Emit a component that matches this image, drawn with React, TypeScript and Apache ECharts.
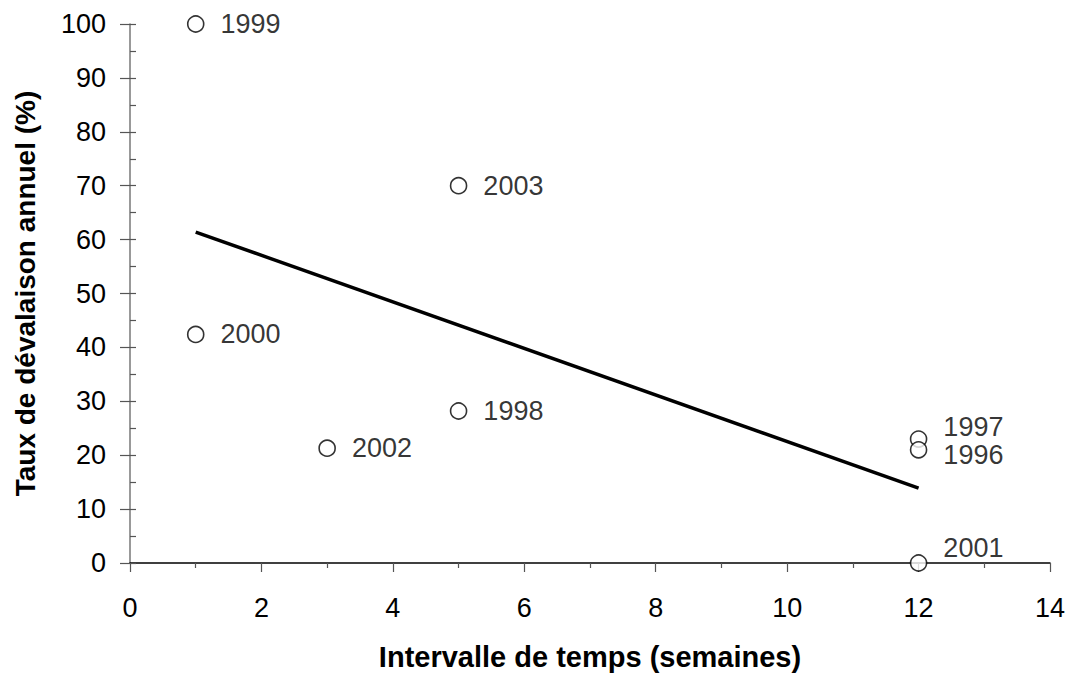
import React, { useEffect, useRef } from "react";
import * as echarts from "echarts";

const years = ["1999", "2003", "2000", "1998", "2002", "1997", "1996", "2001"];
const intervals = [1, 5, 1, 5, 3, 12, 12, 12];
const rates = [100, 70, 42.4, 28.2, 21.3, 23.0, 21.0, 0];
const trendX = [1, 12];
const trendY = [61.4, 13.9];

// label vertical offsets (styling only)
const labelOffsetY: Record<string, number> = { "1997": -12, "1996": 5, "2001": -15 };

const FONT = "'Liberation Sans', Arial, sans-serif";

export default function App() {
  const ref = useRef<HTMLDivElement>(null);
  useEffect(() => {
    if (!ref.current) return;
    const chart = echarts.init(ref.current, undefined, { renderer: "svg" });
    const scatterData = years.map((y, i) => ({
      name: y,
      value: [intervals[i], rates[i]],
      label: { offset: [0, labelOffsetY[y] ?? 0] },
    }));
    chart.setOption({
      animation: false,
      backgroundColor: "#fff",
      grid: { left: 130, right: 21, top: 24, bottom: 114 },
      xAxis: {
        type: "value",
        min: 0,
        max: 14,
        interval: 2,
        name: "Intervalle de temps (semaines)",
        nameLocation: "middle",
        nameGap: 79,
        nameTextStyle: { fontFamily: FONT, fontSize: 29, fontWeight: "bold", color: "#000" },
        axisLine: { show: true, lineStyle: { color: "#000", width: 1.5 } },
        axisTick: { show: true, length: 9, lineStyle: { color: "#555", width: 1.2 } },
        minorTick: { show: true, splitNumber: 2, length: 5, lineStyle: { color: "#555", width: 1.2 } },
        axisLabel: { fontFamily: FONT, fontSize: 27, color: "#000", margin: 31 },
        splitLine: { show: false },
      },
      yAxis: [
        {
          type: "value",
          min: 0,
          max: 100,
          interval: 10,
          name: "Taux de dévalaison annuel (%)",
          nameLocation: "middle",
          nameGap: 91,
          nameRotate: 90,
          nameTextStyle: { fontFamily: FONT, fontSize: 28, fontWeight: "bold", color: "#000" },
          axisLine: { show: true, lineStyle: { color: "#777", width: 1.5 } },
          axisTick: { show: true, length: 10, lineStyle: { color: "#555", width: 1.2 } },
          axisLabel: { fontFamily: FONT, fontSize: 27, color: "#000", margin: 24 },
          splitLine: { show: false },
        },
        {
          type: "value",
          min: 0,
          max: 100,
          interval: 10,
          position: "left",
          axisLine: { show: false },
          axisTick: { show: true, inside: true, length: 6, lineStyle: { color: "#555", width: 1.2 } },
          minorTick: { show: true, splitNumber: 2, length: 6, lineStyle: { color: "#555", width: 1.2 } },
          axisLabel: { show: false },
          splitLine: { show: false },
        },
      ],
      series: [
        {
          type: "line",
          data: trendX.map((x, i) => [x, trendY[i]]),
          showSymbol: false,
          symbol: "none",
          lineStyle: { color: "#000", width: 3.5 },
          z: 2,
        },
        {
          type: "scatter",
          data: scatterData,
          symbol: "circle",
          symbolSize: 16,
          itemStyle: { color: "#fff", borderColor: "#000", borderWidth: 1.6 },
          label: {
            show: true,
            position: "right",
            distance: 16,
            formatter: (p: any) => p.name,
            fontFamily: FONT,
            fontSize: 27,
            color: "#000",
          },
          z: 3,
        },
      ],
    });
    return () => chart.dispose();
  }, []);
  return <div ref={ref} style={{ width: 1071, height: 677, position: "absolute", left: 0, top: 0 }} />;
}
